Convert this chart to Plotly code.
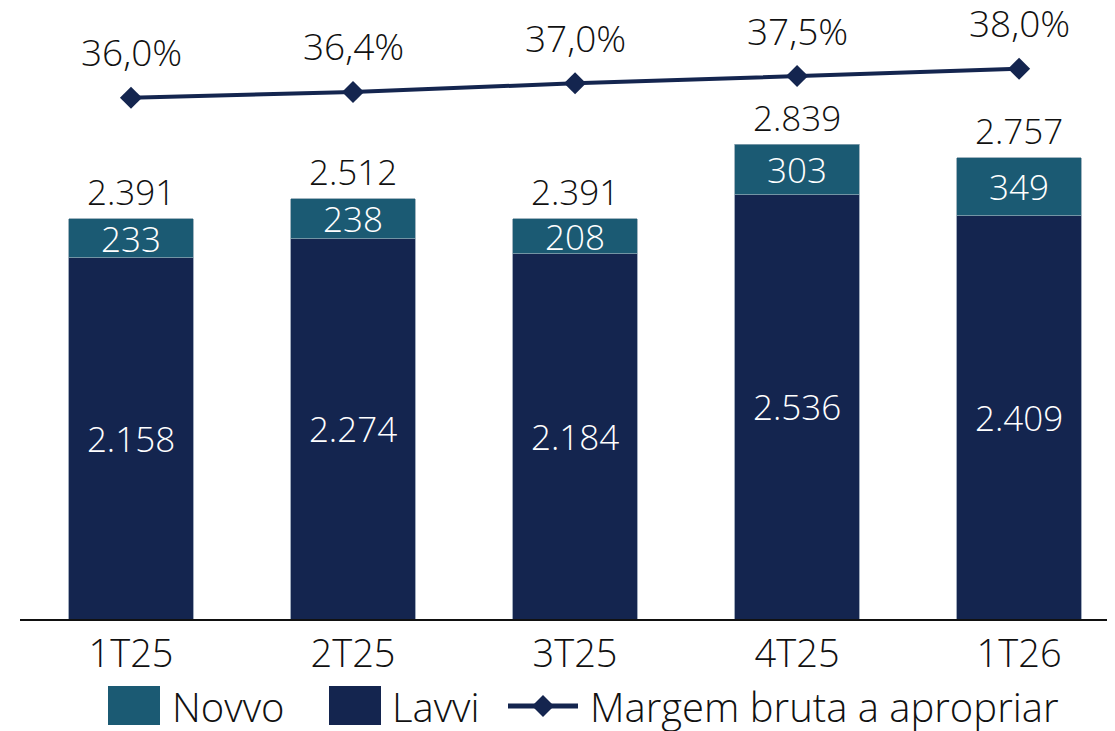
import plotly.graph_objects as go

categories = ["1T25", "2T25", "3T25", "4T25", "1T26"]
lavvi = [2158, 2274, 2184, 2536, 2409]
novvo = [233, 238, 208, 303, 349]
totals = [2391, 2512, 2391, 2839, 2757]
margem = [36.0, 36.4, 37.0, 37.5, 38.0]

def fmt_int(v):
    return f"{v:,}".replace(",", ".")

def fmt_pct(v):
    return f"{v:.1f}%".replace(".", ",")

C_LAVVI = "#14254F"
C_NOVVO = "#1B5A73"
TXT = "#111111"
FONT = "Open Sans"
FS_BAR = 35
FS_PCT = 37
FS_TICK = 38
FS_LEG = 40

fig = go.Figure()
fig.add_trace(go.Bar(
    x=categories, y=lavvi, name="Lavvi", marker=dict(color=C_LAVVI, line=dict(color="#8a97ad", width=0.8)),
    text=[fmt_int(v) for v in lavvi], textposition="inside", insidetextanchor="middle",
    constraintext="none", textfont=dict(color="white", size=FS_BAR, family=FONT, weight=300),
    showlegend=False,
))
fig.add_trace(go.Bar(
    x=categories, y=novvo, name="Novvo", marker=dict(color=C_NOVVO, line=dict(color="#8aa3b0", width=0.8)),
    text=[fmt_int(v) for v in novvo], textposition="inside", insidetextanchor="middle",
    constraintext="none", textfont=dict(color="white", size=FS_BAR, family=FONT, weight=300),
    showlegend=False,
))
fig.add_trace(go.Scatter(
    x=categories, y=margem, yaxis="y2", mode="lines+markers", name="Margem bruta a apropriar",
    line=dict(color=C_LAVVI, width=4), marker=dict(symbol="diamond", size=17, color=C_LAVVI),
    showlegend=False, cliponaxis=False,
))

annotations = []
for c, t in zip(categories, totals):
    annotations.append(dict(x=c, y=t, xref="x", yref="y", text=fmt_int(t), showarrow=False,
                            yanchor="middle", yshift=27,
                            font=dict(size=FS_BAR, family=FONT, color=TXT, weight=300)))
for c, m in zip(categories, margem):
    annotations.append(dict(x=c, y=m, xref="x", yref="y2", text=fmt_pct(m), showarrow=False,
                            yanchor="middle", yshift=46,
                            font=dict(size=FS_PCT, family=FONT, color=TXT, weight=300)))

W, H = 1115, 731
OFF = 8  # page body margin
ML, MR, MT, MB = 12, 8, 0, 120
pw, ph = W - ML - MR, H - MT - MB

def px(x):
    return (x - OFF - ML) / pw

def py(y):
    return (H - MB - (y - OFF)) / ph

shapes = []
leg_font = dict(size=FS_LEG, family=FONT, color=TXT, weight=300)
shapes.append(dict(type="rect", xref="paper", yref="paper", x0=px(108), x1=px(160), y0=py(725), y1=py(686),
                   fillcolor=C_NOVVO, line=dict(width=0)))
annotations.append(dict(xref="paper", yref="paper", x=px(170), y=py(706), text="Novvo", showarrow=False,
                        xanchor="left", yanchor="middle", font=leg_font))
shapes.append(dict(type="rect", xref="paper", yref="paper", x0=px(329), x1=px(381), y0=py(725), y1=py(686),
                   fillcolor=C_LAVVI, line=dict(width=0)))
annotations.append(dict(xref="paper", yref="paper", x=px(390), y=py(706), text="Lavvi", showarrow=False,
                        xanchor="left", yanchor="middle", font=leg_font))
shapes.append(dict(type="line", xref="paper", yref="paper", x0=px(508), x1=px(578), y0=py(706), y1=py(706),
                   line=dict(color=C_LAVVI, width=5)))
shapes.append(dict(type="path", xref="paper", yref="paper",
                   path=f"M {px(532)},{py(706)} L {px(543)},{py(695)} L {px(554)},{py(706)} L {px(543)},{py(717)} Z",
                   fillcolor=C_LAVVI, line=dict(width=0)))
annotations.append(dict(xref="paper", yref="paper", x=px(588), y=py(706), text="Margem bruta a apropriar", showarrow=False,
                        xanchor="left", yanchor="middle", font=leg_font))

fig.update_layout(
    width=W, height=H, barmode="stack", bargap=0.44,
    margin=dict(l=ML, r=MR, t=MT, b=MB),
    paper_bgcolor="white", plot_bgcolor="white",
    font=dict(family=FONT, size=FS_BAR, color=TXT),
    xaxis=dict(range=[-0.5, 4.432], showline=True, linecolor=TXT, linewidth=2,
               tickfont=dict(size=FS_TICK, family=FONT, color=TXT, weight=300), ticks="", showgrid=False,
               fixedrange=True),
    yaxis=dict(range=[0, 3652], visible=False, showgrid=False),
    yaxis2=dict(range=[0, 42.2], overlaying="y", visible=False, showgrid=False),
    shapes=shapes, annotations=annotations,
)
fig.write_html("out.html")
